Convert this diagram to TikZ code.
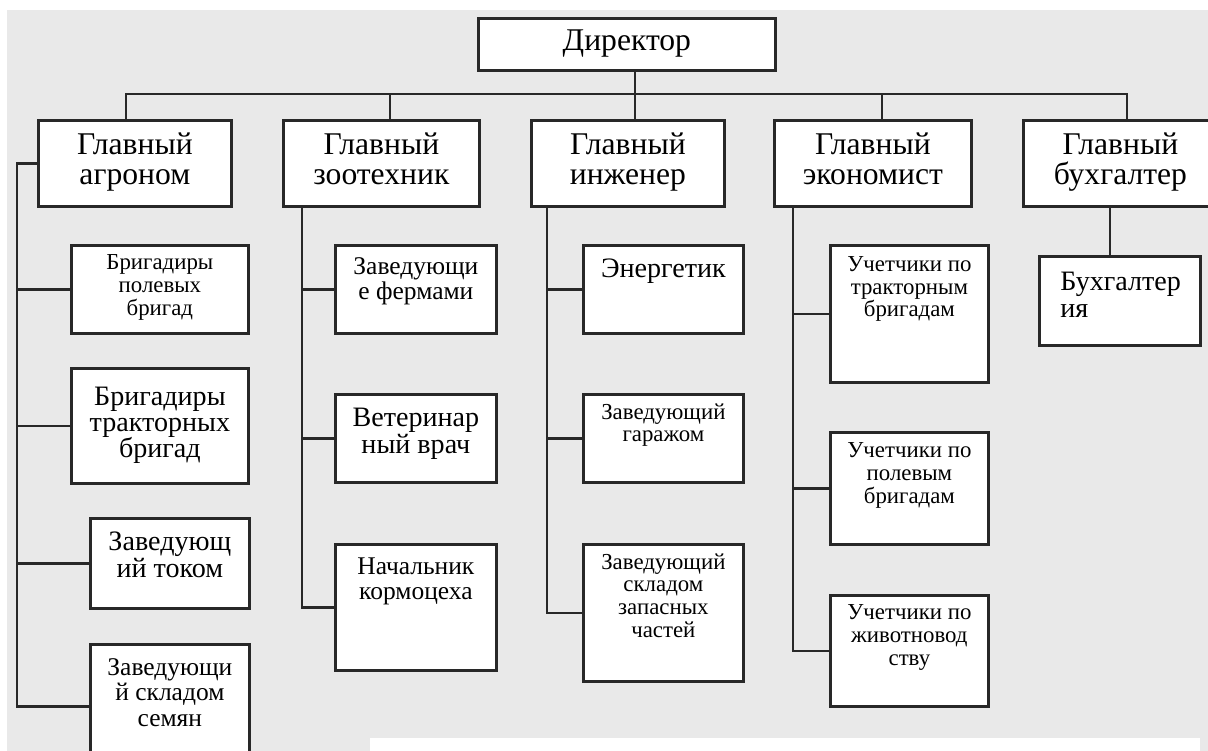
\documentclass[tikz,border=0pt]{standalone}
\usepackage{fontspec}
\setmainfont{Liberation Serif}
\usetikzlibrary{positioning}

\definecolor{bg}{RGB}{233,233,233}
\definecolor{ink}{RGB}{40,40,40}

\tikzset{
  headbox/.style={draw=ink, line width=1.6pt, fill=white, anchor=north west, inner sep=0pt, align=center,
    font=\fontsize{18}{17}\selectfont, execute at begin node=\strut, execute at end node=\strut},
  subbox/.style={draw=ink, line width=1.6pt, fill=white, anchor=north west, inner sep=0pt},
  wire/.style={draw=ink, line width=1.3pt},
  smalltxt/.style={anchor=north, inner sep=0pt, align=center, font=\fontsize{13}{13}\selectfont},
  midtxt/.style={anchor=north, inner sep=0pt, align=center, font=\fontsize{14.5}{14.5}\selectfont},
  bigtxt/.style={anchor=north, inner sep=0pt, align=center, font=\fontsize{16}{15}\selectfont},
}

\begin{document}
\begin{tikzpicture}[x=0.02cm, y=-0.02cm]
	\useasboundingbox (0,0) rectangle (1208,751);
	\clip (0,0) rectangle (1208,751);
	\fill[bg] (7,10) rectangle (1208,751);
	\fill[white] (370,738) rectangle (1200,751);

	% director and heads
	\node[headbox, minimum width=5.94cm, minimum height=1.04cm] (dir) at (477,17) {Директор};
	\node[headbox, minimum width=3.86cm, minimum height=1.72cm] (agr) at (37,119) {Главный\\агроном};
	\node[headbox, minimum width=3.92cm, minimum height=1.72cm] (zoo) at (282,119) {Главный\\зоотехник};
	\node[headbox, minimum width=3.86cm, minimum height=1.72cm] (eng) at (530,119) {Главный\\инженер};
	\node[headbox, minimum width=3.94cm, minimum height=1.72cm] (eco) at (773,119) {Главный\\экономист};
	\node[headbox, minimum width=3.88cm, minimum height=1.72cm] (acc) at (1022,119) {Главный\\бухгалтер};

	% agronom
	\node[subbox, minimum width=3.54cm, minimum height=1.76cm, label={[smalltxt, yshift=-6pt]north:Бригадиры\\полевых\\бригад}] (agr1) at (70,244) {};
	\node[subbox, minimum width=3.54cm, minimum height=2.30cm, label={[bigtxt, yshift=-11pt]north:Бригадиры\\тракторных\\бригад}] (agr2) at (70,367) {};
	\node[subbox, minimum width=3.18cm, minimum height=1.80cm, label={[bigtxt, yshift=-8.5pt]north:Заведующ\\ий током}] (agr3) at (89,517) {};
	\node[subbox, minimum width=3.18cm, minimum height=2.48cm, label={[midtxt, yshift=-8.5pt]north:Заведующи\\й складом\\семян}] (agr4) at (89,643) {};

	% zootechnik
	\node[subbox, minimum width=3.22cm, minimum height=1.76cm, label={[midtxt, yshift=-7.4pt]north:Заведующи\\е фермами}] (zoo1) at (334,244) {};
	\node[subbox, minimum width=3.22cm, minimum height=1.76cm, label={[bigtxt, yshift=-8.5pt]north:Ветеринар\\ный врач}] (zoo2) at (334,393) {};
	\node[subbox, minimum width=3.22cm, minimum height=2.52cm, label={[midtxt, yshift=-8pt]north:Начальник\\кормоцеха}] (zoo3) at (334,543) {};

	% engineer
	\node[subbox, minimum width=3.20cm, minimum height=1.76cm, label={[bigtxt, yshift=-8pt]north:Энергетик}] (eng1) at (582,244) {};
	\node[subbox, minimum width=3.20cm, minimum height=1.76cm, label={[smalltxt, yshift=-5.7pt]north:Заведующий\\гаражом}] (eng2) at (582,393) {};
	\node[subbox, minimum width=3.20cm, minimum height=2.74cm, label={[smalltxt, yshift=-5.7pt]north:Заведующий\\складом\\запасных\\частей}] (eng3) at (582,543) {};

	% economist
	\node[subbox, minimum width=3.16cm, minimum height=2.74cm, label={[smalltxt, yshift=-6.8pt]north:Учетчики по\\тракторным\\бригадам}] (eco1) at (829,244) {};
	\node[subbox, minimum width=3.16cm, minimum height=2.24cm, label={[smalltxt, yshift=-6.3pt]north:Учетчики по\\полевым\\бригадам}] (eco2) at (829,431) {};
	\node[subbox, minimum width=3.16cm, minimum height=2.22cm, label={[smalltxt, yshift=-5.7pt]north:Учетчики по\\животновод\\ству}] (eco3) at (829,594) {};

	% accountant
	\node[subbox, minimum width=3.22cm, minimum height=1.78cm, label={[bigtxt, anchor=north west, align=left, xshift=12.5pt, yshift=-9.7pt]north west:Бухгалтер\\ия}] (buh) at (1038,255) {};

	% bus
	\coordinate (busA) at (126,94);
	\coordinate (busZ) at (390,94);
	\coordinate (busE) at (635,94);
	\coordinate (busC) at (882,94);
	\coordinate (busB) at (1127,94);
	\draw[wire] (busA |- agr.north) -- (busA) -- (busB) -- (busB |- acc.north);
	\draw[wire] (busZ) -- (busZ |- zoo.north);
	\draw[wire] (busE |- dir.south) -- (busE |- eng.north);
	\draw[wire] (busC) -- (busC |- eco.north);

	% trunks
	\coordinate (trA) at (17,0);
	\coordinate (trZ) at (302,0);
	\coordinate (trE) at (547,0);
	\coordinate (trC) at (793,0);
	\coordinate (trB) at (1110,0);
	\draw[wire] (agr.west) -| (trA |- agr4.west) -- (agr4.west);
	\foreach \b in {agr1,agr2,agr3}
		\draw[wire] (trA |- \b.west) -- (\b.west);
	\draw[wire] (trZ |- zoo.south) |- (zoo3.west);
	\foreach \b in {zoo1,zoo2}
		\draw[wire] (trZ |- \b.west) -- (\b.west);
	\draw[wire] (trE |- eng.south) |- (eng3.west);
	\foreach \b in {eng1,eng2}
		\draw[wire] (trE |- \b.west) -- (\b.west);
	\draw[wire] (trC |- eco.south) |- (eco3.west);
	\foreach \b in {eco1,eco2}
		\draw[wire] (trC |- \b.west) -- (\b.west);
	\draw[wire] (trB |- acc.south) -- (trB |- buh.north);
\end{tikzpicture}
\end{document}
